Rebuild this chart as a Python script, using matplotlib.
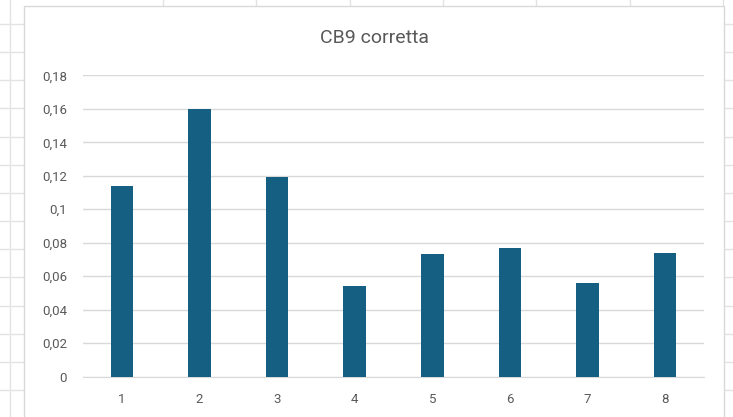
import matplotlib
matplotlib.use("Agg")
import matplotlib.pyplot as plt
from matplotlib.patches import Rectangle
from matplotlib.ticker import FuncFormatter, MultipleLocator

# Valori della serie "CB9 corretta"
categorie = [1, 2, 3, 4, 5, 6, 7, 8]
valori = [0.114, 0.160, 0.119, 0.054, 0.073, 0.077, 0.056, 0.074]

titolo = "CB9 corretta"
BLU = "#156082"
GRIGIO_TESTO = "#595959"
GRIGIO_GRIGLIA = "#d9d9d9"
GRIGIO_FOGLIO = "#e3e3e3"

plt.rcParams['font.family'] = ['Roboto', 'DejaVu Sans']

W, H = 733, 417
fig = plt.figure(figsize=(W / 100, H / 100), dpi=100)

# sfondo: celle del foglio di calcolo, coordinate in pixel
bg = fig.add_axes([0, 0, 1, 1])
bg.set_xlim(0, W)
bg.set_ylim(H, 0)
bg.axis("off")
for k in range(15):
    y = 24 + 28.15 * k
    bg.plot([0, W], [y, y], color=GRIGIO_FOGLIO, lw=1, zorder=1)
bg.plot([10, 10], [0, H], color=GRIGIO_FOGLIO, lw=1, zorder=1)
for k in range(7):
    x = 163 + 93.35 * k
    bg.plot([x, x], [0, H], color=GRIGIO_FOGLIO, lw=1, zorder=1)

# riquadro del grafico
bg.add_patch(Rectangle((24, 6), 700, H, facecolor="white",
                       edgecolor=GRIGIO_GRIGLIA, lw=1, zorder=2))
bg.text(374, 38, titolo, ha="center", va="center", fontsize=14,
        color=GRIGIO_TESTO, zorder=3)

# area del tracciato
ax = fig.add_axes([83 / W, (H - 376.7) / H, 621 / W, 301.4 / H])
ax.patch.set_alpha(0)
ax.bar(categorie, valori, width=0.29, color=BLU, zorder=3)

ax.set_xlim(0.5, 8.5)
ax.set_ylim(0, 0.18)
ax.yaxis.set_major_locator(MultipleLocator(0.02))
ax.yaxis.set_major_formatter(FuncFormatter(lambda v, p: f"{v:g}".replace(".", ",")))
ax.set_xticks(categorie)

ax.grid(axis="y", color=GRIGIO_GRIGLIA, lw=1, zorder=0)
for s in ["top", "right", "left"]:
    ax.spines[s].set_visible(False)
ax.spines["bottom"].set_color(GRIGIO_GRIGLIA)
ax.tick_params(axis="both", length=0, labelsize=9.5, labelcolor=GRIGIO_TESTO)
ax.tick_params(axis="y", pad=11.5)
ax.tick_params(axis="x", pad=11.5)

fig.savefig("out.png", dpi=100)
